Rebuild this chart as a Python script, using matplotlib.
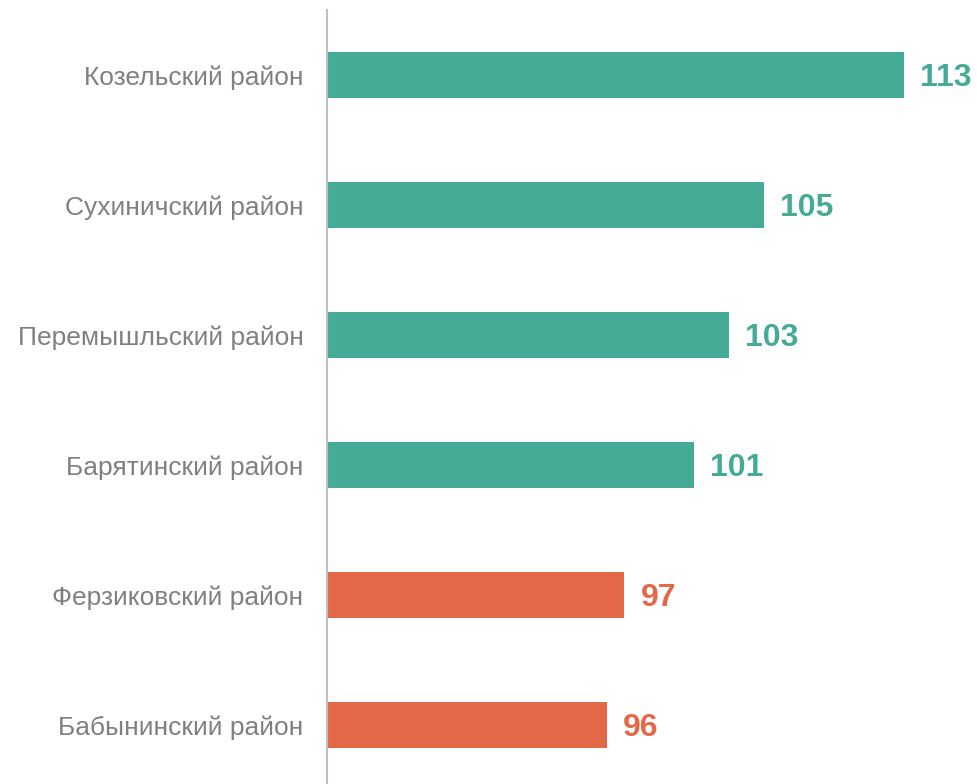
import matplotlib.pyplot as plt

# data (top to bottom)
districts = ['Козельский район', 'Сухиничский район', 'Перемышльский район',
             'Барятинский район', 'Ферзиковский район', 'Бабынинский район']
values = [113, 105, 103, 101, 97, 96]
bar_colors = ['#45AA96', '#45AA96', '#45AA96', '#45AA96', '#E36847', '#E36847']

plt.rcParams['font.family'] = ['Liberation Sans', 'DejaVu Sans']

fig = plt.figure(figsize=(9.77, 7.84), dpi=100)
# axes: x from 327px to 977px, y from 10px to bottom
ax = fig.add_axes([327 / 977, 0, 650 / 977, 774 / 784])

y = list(range(len(districts)))
ax.barh(y, values, height=0.354, color=bar_colors, left=0)

ax.set_xlim(80, 80 + 650 / 17.5)
ax.set_ylim(5.454, -0.5)

for yi, v, c in zip(y, values, bar_colors):
    ax.annotate(str(v), xy=(v, yi), xytext=(16, -3), textcoords='offset pixels',
                va='center', ha='left', fontsize=23, fontweight='bold', color=c)

ax.set_yticks(y)
ax.set_yticklabels(districts, fontsize=19, color='#808080')
ax.tick_params(axis='y', length=0, pad=17)
ax.set_xticks([])

for s in ['top', 'right', 'bottom']:
    ax.spines[s].set_visible(False)
ax.spines['left'].set_color('#BFBFBF')
ax.spines['left'].set_linewidth(1.5)

fig.savefig('out.png', dpi=100)
